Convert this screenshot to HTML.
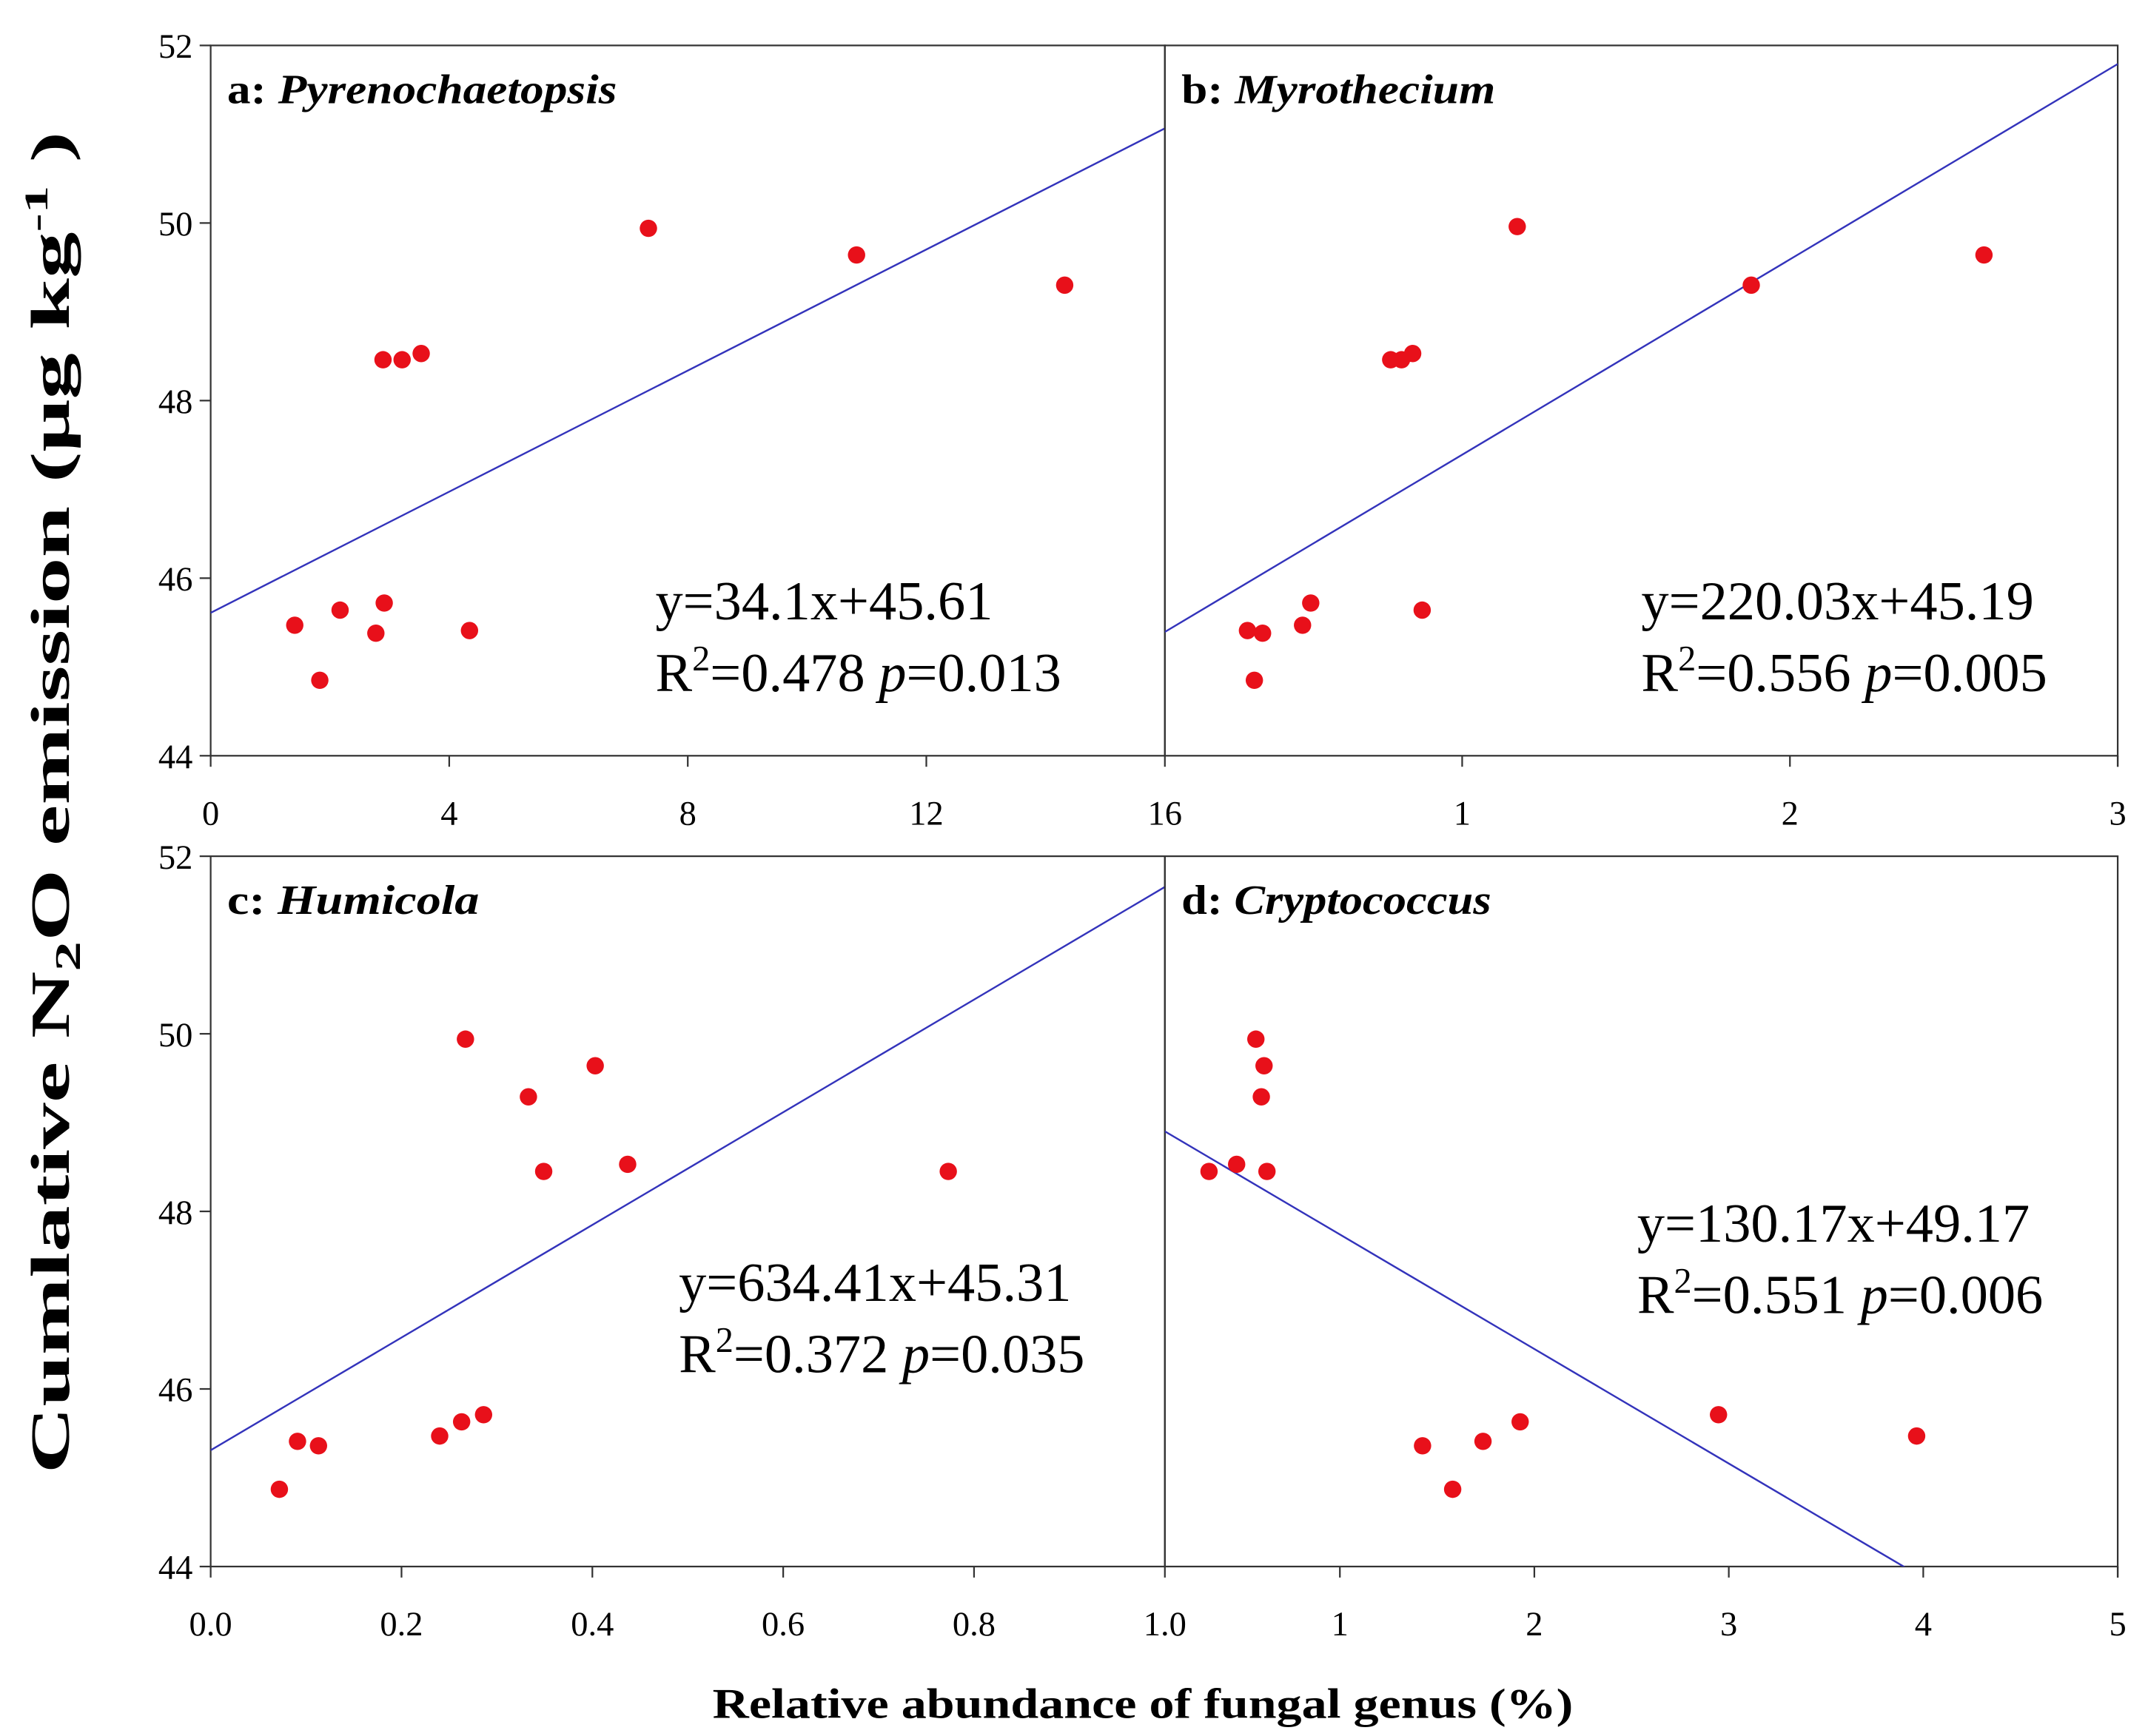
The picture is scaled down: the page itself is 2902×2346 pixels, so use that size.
<!DOCTYPE html>
<html><head><meta charset="utf-8"><style>
html,body{margin:0;padding:0;background:#fff;}
svg{display:block;font-family:"Liberation Serif",serif;}
</style></head><body>
<svg id="chart" width="2902" height="2346" viewBox="0 0 1560 1261.1" xmlns="http://www.w3.org/2000/svg">
<rect width="1560" height="1262" fill="#fff"/>
<g id="plots"></g>
<text transform="translate(50,583) rotate(-90)" text-anchor="middle" font-size="40" font-weight="bold" textLength="975" lengthAdjust="spacingAndGlyphs">Cumlative N<tspan font-size="26" dy="8">2</tspan><tspan dy="-8">O emission (μg kg</tspan><tspan font-size="24" dy="-16">-1</tspan><tspan dy="16"> )</tspan></text>
<text x="830" y="1248" text-anchor="middle" font-size="31" font-weight="bold" textLength="625" lengthAdjust="spacingAndGlyphs">Relative abundance of fungal genus (%)</text>
</svg>
<script>
const yVals = [44.85,45.38,45.41,45.47,45.64,45.72,48.46,48.46,48.53,49.94,49.64,49.30];
const xA = [1.83,2.77,4.34,1.41,2.17,2.91,2.89,3.21,3.53,7.34,10.83,14.32];
const yB = [44.85,45.38,45.41,45.47,45.64,45.72,48.46,48.46,48.53,49.96,49.64,49.30];
const xB = [0.366,0.391,0.345,0.513,0.878,0.538,0.782,0.815,0.849,1.168,2.592,1.882];
const yC = [44.87,45.36,45.41,45.47,45.63,45.71,48.45,48.45,48.53,49.94,49.64,49.29];
const xC = [0.072,0.113,0.091,0.240,0.263,0.286,0.349,0.773,0.437,0.267,0.403,0.333];
const yD = [44.87,45.36,45.41,45.47,45.63,45.71,48.45,48.45,48.53,49.94,49.64,49.29];
const xD = [1.58,1.425,1.736,3.966,1.927,2.947,0.327,0.625,0.469,0.568,0.61,0.596];
const yTicks = [44,46,48,50,52];
const ticksA = [0,4,8,12,16];
const ticksB = [1,2,3];
const ticksC = [0.0,0.2,0.4,0.6,0.8,1.0];
const ticksD = [1,2,3,4,5];
const fitA = [0.341, 45.61];
const fitB = [2.2003, 45.19];
const fitC = [6.3441, 45.31];
const fitD = [-1.29, 49.03];

const NS="http://www.w3.org/2000/svg";
const g=document.getElementById('plots');
function mk(t,a,p){const e=document.createElementNS(NS,t);for(const k in a)e.setAttribute(k,a[k]);(p||g).appendChild(e);return e;}

const panels=[
 {id:'a',x0:153,x1:846,y0:33,y1:549,xmin:0,xmax:16,xs:xA,ys:yVals,ticks:ticksA,fit:fitA,label:'Pyrenochaetopsis',lw:283,eq:'y=34.1x+45.61',r:'0.478',p:'0.013',ex:476,ey:450,fmt:v=>String(v),left:true},
 {id:'b',x0:846,x1:1538,y0:33,y1:549,xmin:0.093,xmax:3,xs:xB,ys:yB,ticks:ticksB,fit:fitB,label:'Myrothecium',lw:228,eq:'y=220.03x+45.19',r:'0.556',p:'0.005',ex:1192,ey:450,fmt:v=>String(v),left:false},
 {id:'c',x0:153,x1:846,y0:622,y1:1138,xmin:0,xmax:1,xs:xC,ys:yC,ticks:ticksC,fit:fitC,label:'Humicola',lw:183,eq:'y=634.41x+45.31',r:'0.372',p:'0.035',ex:493,ey:945,fmt:v=>v.toFixed(1),left:true},
 {id:'d',x0:846,x1:1538,y0:622,y1:1138,xmin:0.1,xmax:5,xs:xD,ys:yD,ticks:ticksD,fit:fitD,label:'Cryptococcus',lw:225,eq:'y=130.17x+49.17',r:'0.551',p:'0.006',ex:1189,ey:902,fmt:v=>String(v),left:false}
];

panels.forEach(P=>{
 const sx=v=>P.x0+(v-P.xmin)/(P.xmax-P.xmin)*(P.x1-P.x0);
 const sy=v=>P.y1-(v-44)/8*(P.y1-P.y0);
 const pg=mk('g',{});
 
 
 const cp=mk('clipPath',{id:'clip'+P.id},pg);
 mk('rect',{x:P.x0,y:P.y0,width:P.x1-P.x0,height:P.y1-P.y0},cp);
 const fr=mk('rect',{x:P.x0,y:P.y0,width:P.x1-P.x0,height:P.y1-P.y0,fill:'none',stroke:'#333','stroke-width':1.2},pg);
 
 
 if(P.left){
  yTicks.forEach(t=>{
   mk('line',{x1:P.x0-8,x2:P.x0,y1:sy(t),y2:sy(t),stroke:'#333','stroke-width':1.2},pg);
   const tl=mk('text',{x:P.x0-13,y:sy(t)+9,'text-anchor':'end','font-size':25},pg);
   tl.textContent=t;
   
   
  });
 }
 P.ticks.forEach(t=>{
  const x=sx(t);
  mk('line',{x1:x,x2:x,y1:P.y1,y2:P.y1+8,stroke:'#333','stroke-width':1.2},pg);
  const tl=mk('text',{x:x,y:P.y1+50,'text-anchor':'middle','font-size':25},pg);
  tl.textContent=P.fmt(t);
  
  
 });
 if(!P.left){mk('line',{x1:P.x1,x2:P.x1,y1:P.y1,y2:P.y1+8,stroke:'#333','stroke-width':1.2},pg);}
 const ln=mk('line',{x1:sx(P.xmin),y1:sy(P.fit[0]*P.xmin+P.fit[1]),x2:sx(P.xmax),y2:sy(P.fit[0]*P.xmax+P.fit[1]),stroke:'#3333bb','stroke-width':1.3,'clip-path':'url(#clip'+P.id+')'},pg);
 
 
 P.xs.forEach((xv,i)=>{
  const c=mk('circle',{cx:sx(xv),cy:sy(P.ys[i]),r:6.3,fill:'#e8101a'},pg);
  
  
 });
 const lb=mk('text',{x:P.x0+12,y:P.y0+42,'font-size':30,'font-weight':'bold',textLength:P.lw,lengthAdjust:'spacingAndGlyphs'},pg);
 lb.innerHTML=P.id+': <tspan font-style="italic">'+P.label+'</tspan>';
 
 
 const e1=mk('text',{x:P.ex,y:P.ey,'font-size':40},pg);
 e1.textContent=P.eq;
 
 
 const e2=mk('text',{x:P.ex,y:P.ey+52,'font-size':40},pg);
 e2.innerHTML='R<tspan font-size="26" dy="-15">2</tspan><tspan dy="15">='+P.r+' </tspan><tspan font-style="italic">p</tspan>='+P.p;
 
 
});
</script>
</body></html>
